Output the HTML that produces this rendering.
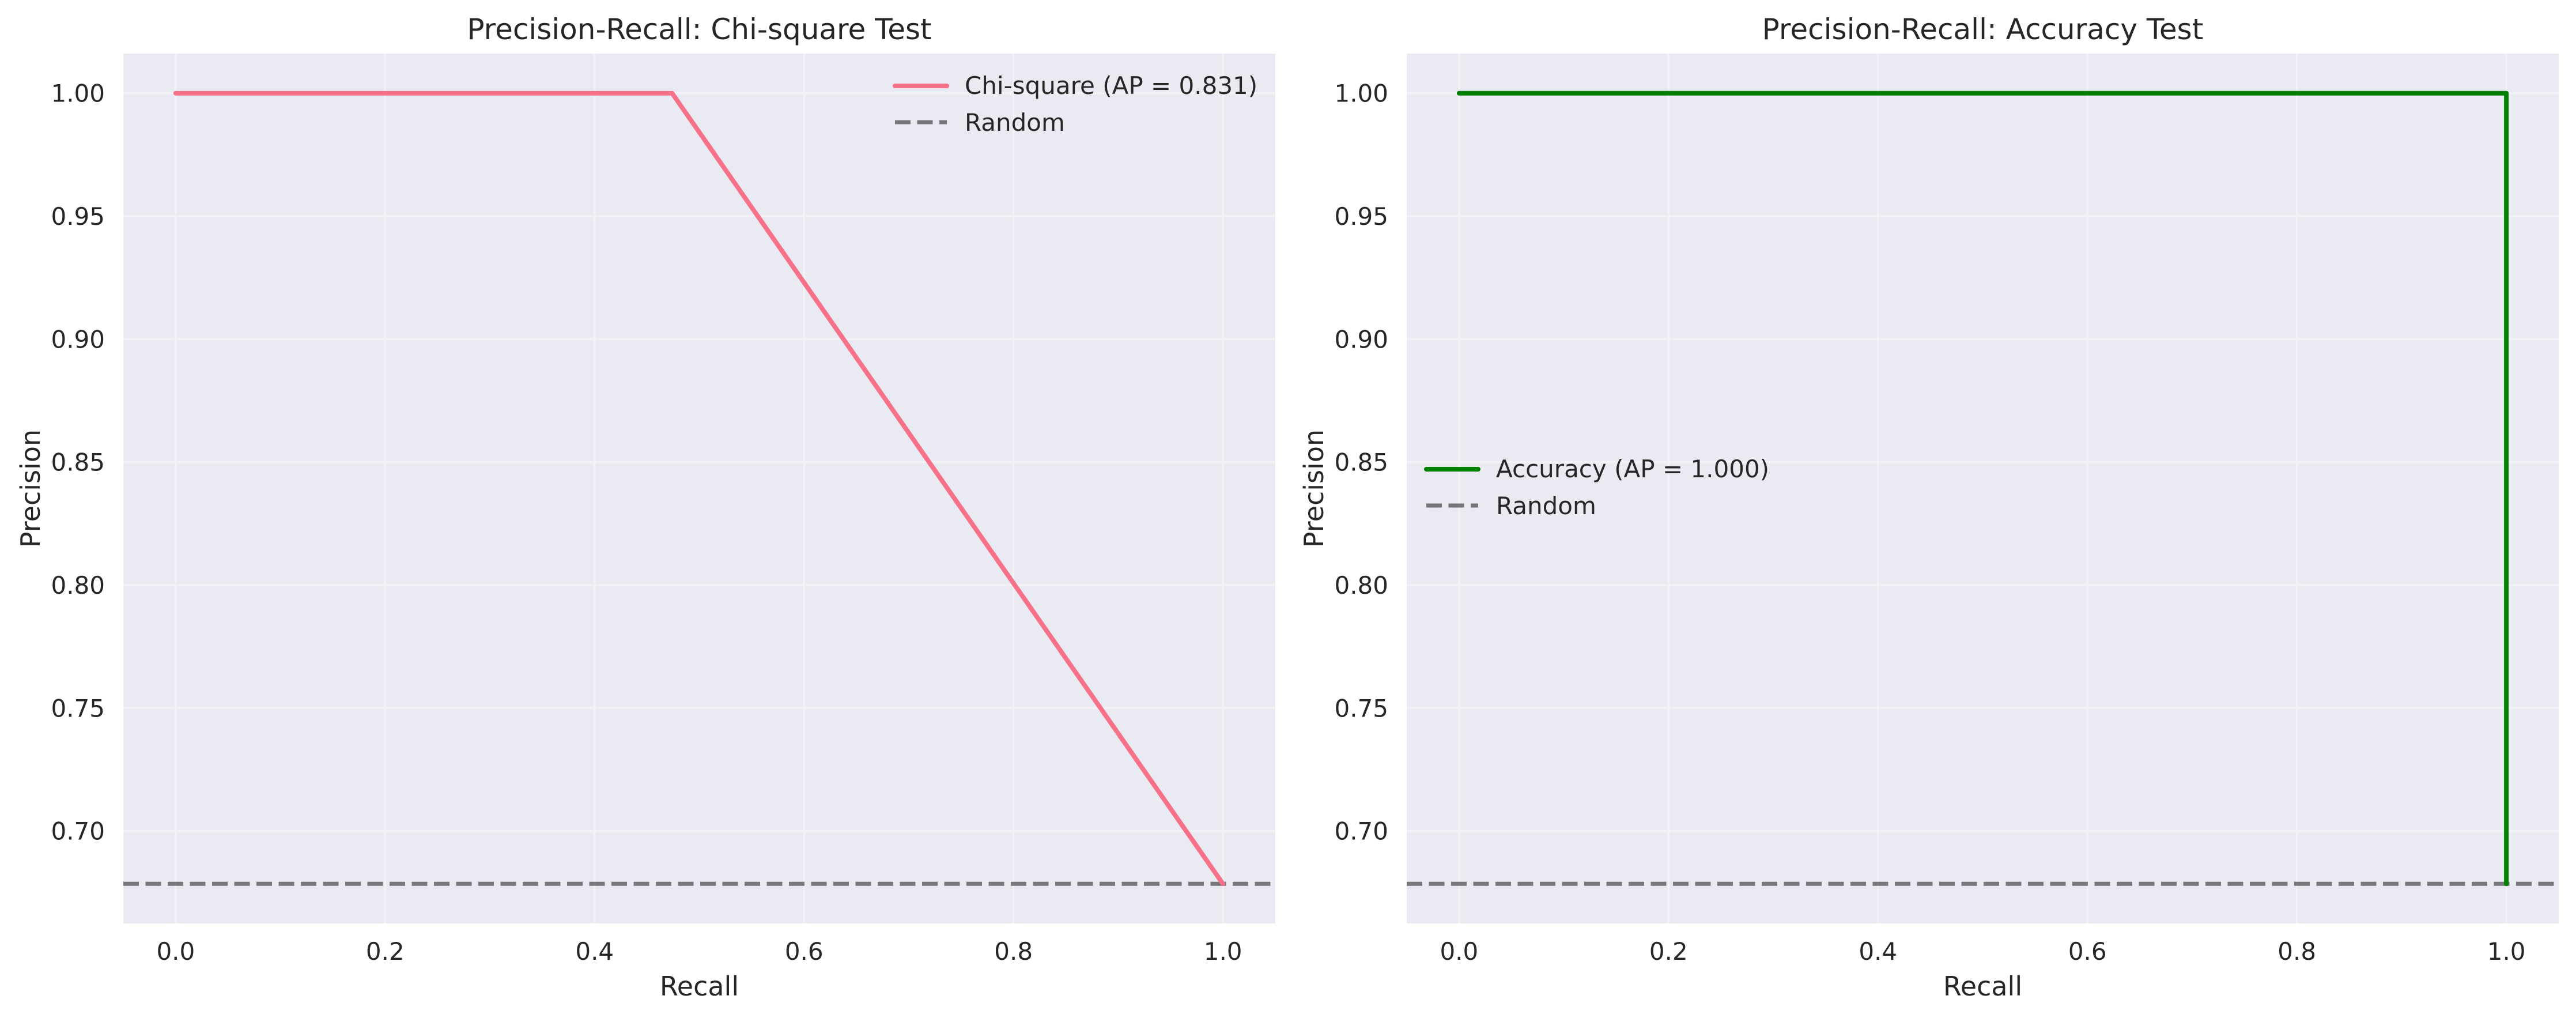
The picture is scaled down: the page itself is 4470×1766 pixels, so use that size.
<!DOCTYPE html>
<html><head><meta charset="utf-8"><style>
html,body{margin:0;padding:0;background:#fff;}
svg{display:block;font-family:"DejaVu Sans","Liberation Sans",sans-serif;}
</style></head><body>
<svg id="fig" width="4470" height="1766" viewBox="0 0 4470 1766" xmlns="http://www.w3.org/2000/svg"></svg>
<script>
const xTicks = [0, 0.2, 0.4, 0.6, 0.8, 1.0];
const xTickLabels = ["0.0","0.2","0.4","0.6","0.8","1.0"];
const yTicks = [0.70, 0.75, 0.80, 0.85, 0.90, 0.95, 1.00];
const yTickLabels = ["0.70","0.75","0.80","0.85","0.90","0.95","1.00"];
const chiRecall = [0, 0.474, 1.0];
const chiPrecision = [1.0, 1.0, 0.6785];
const accRecall = [0, 1.0, 1.0];
const accPrecision = [1.0, 1.0, 0.6785];
const randomBaseline = 0.6785;
const chiLabel = "Chi-square (AP = 0.831)";
const accLabel = "Accuracy (AP = 1.000)";

const NS = "http://www.w3.org/2000/svg";
const svg = document.getElementById("fig");
function mk(tag, attrs, parent){
  const e = document.createElementNS(NS, tag);
  for (const k in attrs) e.setAttribute(k, attrs[k]);
  (parent||svg).appendChild(e);
  return e;
}
const YMIN = 0.6624, YMAX = 1.0161, XMIN = -0.05, XMAX = 1.05;

function panel(left, name, title, xs, ys, color, label, legendX, legendY){
  const top = 93, bottom = 1602, right = left + 1999;
  const sx = v => left + (v - XMIN) / (XMAX - XMIN) * (right - left);
  const sy = v => bottom - (v - YMIN) / (YMAX - YMIN) * (bottom - top);
  const g = mk("g", {});
  
  
  const bg = mk("rect", {x:left, y:top, width:right-left, height:bottom-top, fill:"#EAEAF2"}, g);
  
  
  xTicks.forEach((t,i)=>{
    const gl = mk("line",{x1:sx(t),x2:sx(t),y1:top,y2:bottom,stroke:"#F3F3F7","stroke-width":3},g);
    
    
    const tl = mk("text",{x:sx(t),y:1665,"font-size":42,fill:"#262626","text-anchor":"middle"},g);
    tl.textContent = xTickLabels[i];
    
    
  });
  yTicks.forEach((t,i)=>{
    const gl = mk("line",{x1:left,x2:right,y1:sy(t),y2:sy(t),stroke:"#F3F3F7","stroke-width":3},g);
    
    
    const tl = mk("text",{x:left-32,y:sy(t)+15,"font-size":42,fill:"#262626","text-anchor":"end"},g);
    tl.textContent = yTickLabels[i];
    
    
  });
  const rnd = mk("line",{x1:left,x2:right,y1:sy(randomBaseline),y2:sy(randomBaseline),stroke:"#000","stroke-opacity":0.5,"stroke-width":7,"stroke-dasharray":"27 11.5"},g);
  
  
  const pts = xs.map((x,i)=>sx(x)+","+sy(ys[i])).join(" ");
  const pl = mk("polyline",{points:pts,fill:"none",stroke:color,"stroke-width":8,"stroke-linejoin":"round","stroke-linecap":"round"},g);
  
  
  const tt = mk("text",{x:(left+right)/2,y:68,"font-size":50,fill:"#262626","text-anchor":"middle"},g);
  tt.textContent = title;
  
  
  const xl = mk("text",{x:(left+right)/2,y:1727,"font-size":46,fill:"#262626","text-anchor":"middle"},g);
  xl.textContent = "Recall";
  
  
  const yx = left-161, yy = (top+bottom)/2;
  const yl = mk("text",{x:yx,y:yy,"font-size":46,fill:"#262626","text-anchor":"middle","dominant-baseline":"central",transform:`rotate(-90 ${yx} ${yy})`},g);
  yl.textContent = "Precision";
  
  
  // legend
  const lg = mk("g",{},g);
  
  
  const e1 = mk("line",{x1:legendX,x2:legendX+90,y1:legendY,y2:legendY,stroke:color,"stroke-width":8,"stroke-linecap":"round"},lg);
  
  
  const t1 = mk("text",{x:legendX+121,y:legendY+14,"font-size":42,fill:"#262626"},lg);
  t1.textContent = label;
  
  
  const e2 = mk("line",{x1:legendX,x2:legendX+90,y1:legendY+63,y2:legendY+63,stroke:"#000","stroke-opacity":0.5,"stroke-width":7,"stroke-dasharray":"27 11.5"},lg);
  
  
  const t2 = mk("text",{x:legendX+121,y:legendY+78,"font-size":42,fill:"#262626"},lg);
  t2.textContent = "Random";
  
  
}
panel(214, "chi-square-panel", "Precision-Recall: Chi-square Test", chiRecall, chiPrecision, "#F77189", chiLabel, 1553, 149);
panel(2441, "accuracy-panel", "Precision-Recall: Accuracy Test", accRecall, accPrecision, "#008000", accLabel, 2475, 814);
</script>
</body></html>
